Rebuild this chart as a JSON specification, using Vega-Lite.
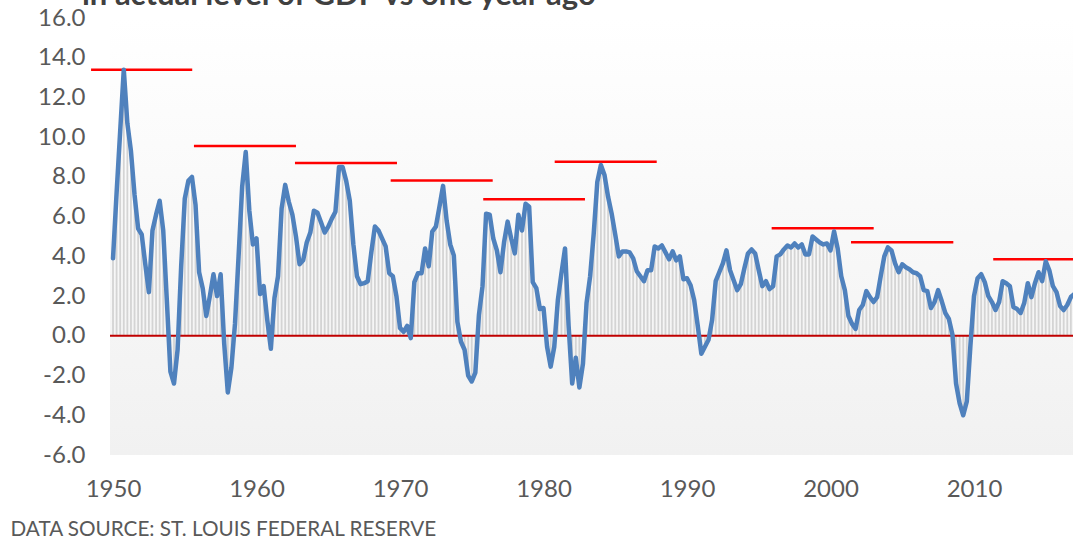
{
  "$schema": "https://vega.github.io/schema/vega-lite/v6.json",
  "autosize": {"type": "none"},
  "width": 963,
  "height": 437,
  "padding": {"left": 110, "top": 18, "right": 0, "bottom": 84},
  "background": "#ffffff",
  "title": {
    "text": "in actual level of GDP vs one year ago",
    "anchor": "start",
    "frame": "group",
    "font": "Lato",
    "fontSize": 31,
    "fontWeight": "bold",
    "color": "#404040",
    "baseline": "alphabetic",
    "offset": 0,
    "dx": -28,
    "dy": 30
  },
  "datasets": {
    "gdp": [
      {"t": 1950.0, "v": 3.9}, {"t": 1950.25, "v": 7.2}, {"t": 1950.5, "v": 10.3}, {"t": 1950.75, "v": 13.4},
      {"t": 1951.0, "v": 10.7}, {"t": 1951.25, "v": 9.3}, {"t": 1951.5, "v": 7.1}, {"t": 1951.75, "v": 5.4},
      {"t": 1952.0, "v": 5.1}, {"t": 1952.25, "v": 3.6}, {"t": 1952.5, "v": 2.2}, {"t": 1952.75, "v": 5.3},
      {"t": 1953.0, "v": 6.1}, {"t": 1953.25, "v": 6.8}, {"t": 1953.5, "v": 5.3}, {"t": 1953.75, "v": 1.8},
      {"t": 1954.0, "v": -1.8}, {"t": 1954.25, "v": -2.4}, {"t": 1954.5, "v": -0.7}, {"t": 1954.75, "v": 3.5},
      {"t": 1955.0, "v": 6.9}, {"t": 1955.25, "v": 7.8}, {"t": 1955.5, "v": 8.0}, {"t": 1955.75, "v": 6.6},
      {"t": 1956.0, "v": 3.2}, {"t": 1956.25, "v": 2.4}, {"t": 1956.5, "v": 1.0}, {"t": 1956.75, "v": 2.0},
      {"t": 1957.0, "v": 3.1}, {"t": 1957.25, "v": 2.0}, {"t": 1957.5, "v": 3.1}, {"t": 1957.75, "v": -0.4},
      {"t": 1958.0, "v": -2.85}, {"t": 1958.25, "v": -1.6}, {"t": 1958.5, "v": 0.6}, {"t": 1958.75, "v": 4.0},
      {"t": 1959.0, "v": 7.5}, {"t": 1959.25, "v": 9.25}, {"t": 1959.5, "v": 6.3}, {"t": 1959.75, "v": 4.6},
      {"t": 1960.0, "v": 4.9}, {"t": 1960.25, "v": 2.1}, {"t": 1960.5, "v": 2.5}, {"t": 1960.75, "v": 0.8},
      {"t": 1961.0, "v": -0.65}, {"t": 1961.25, "v": 1.9}, {"t": 1961.5, "v": 3.0}, {"t": 1961.75, "v": 6.4},
      {"t": 1962.0, "v": 7.6}, {"t": 1962.25, "v": 6.75}, {"t": 1962.5, "v": 6.1}, {"t": 1962.75, "v": 5.0},
      {"t": 1963.0, "v": 3.6}, {"t": 1963.25, "v": 3.8}, {"t": 1963.5, "v": 4.7}, {"t": 1963.75, "v": 5.2},
      {"t": 1964.0, "v": 6.3}, {"t": 1964.25, "v": 6.2}, {"t": 1964.5, "v": 5.7}, {"t": 1964.75, "v": 5.2},
      {"t": 1965.0, "v": 5.5}, {"t": 1965.25, "v": 5.9}, {"t": 1965.5, "v": 6.25}, {"t": 1965.75, "v": 8.5},
      {"t": 1966.0, "v": 8.5}, {"t": 1966.25, "v": 7.8}, {"t": 1966.5, "v": 6.8}, {"t": 1966.75, "v": 4.6},
      {"t": 1967.0, "v": 3.0}, {"t": 1967.25, "v": 2.6}, {"t": 1967.5, "v": 2.65}, {"t": 1967.75, "v": 2.75},
      {"t": 1968.0, "v": 4.2}, {"t": 1968.25, "v": 5.5}, {"t": 1968.5, "v": 5.3}, {"t": 1968.75, "v": 4.9},
      {"t": 1969.0, "v": 4.5}, {"t": 1969.25, "v": 3.15}, {"t": 1969.5, "v": 3.0}, {"t": 1969.75, "v": 2.0},
      {"t": 1970.0, "v": 0.4}, {"t": 1970.25, "v": 0.2}, {"t": 1970.5, "v": 0.5}, {"t": 1970.75, "v": -0.12},
      {"t": 1971.0, "v": 2.7}, {"t": 1971.25, "v": 3.15}, {"t": 1971.5, "v": 3.15}, {"t": 1971.75, "v": 4.4},
      {"t": 1972.0, "v": 3.5}, {"t": 1972.25, "v": 5.25}, {"t": 1972.5, "v": 5.5}, {"t": 1972.75, "v": 6.5},
      {"t": 1973.0, "v": 7.55}, {"t": 1973.25, "v": 5.8}, {"t": 1973.5, "v": 4.6}, {"t": 1973.75, "v": 4.05},
      {"t": 1974.0, "v": 0.7}, {"t": 1974.25, "v": -0.3}, {"t": 1974.5, "v": -0.7}, {"t": 1974.75, "v": -2.0},
      {"t": 1975.0, "v": -2.3}, {"t": 1975.25, "v": -1.85}, {"t": 1975.5, "v": 1.05}, {"t": 1975.75, "v": 2.5},
      {"t": 1976.0, "v": 6.15}, {"t": 1976.25, "v": 6.1}, {"t": 1976.5, "v": 4.9}, {"t": 1976.75, "v": 4.3},
      {"t": 1977.0, "v": 3.2}, {"t": 1977.25, "v": 4.7}, {"t": 1977.5, "v": 5.75}, {"t": 1977.75, "v": 4.9},
      {"t": 1978.0, "v": 4.15}, {"t": 1978.25, "v": 6.1}, {"t": 1978.5, "v": 5.3}, {"t": 1978.75, "v": 6.65},
      {"t": 1979.0, "v": 6.5}, {"t": 1979.25, "v": 2.7}, {"t": 1979.5, "v": 2.4}, {"t": 1979.75, "v": 1.35},
      {"t": 1980.0, "v": 1.4}, {"t": 1980.25, "v": -0.55}, {"t": 1980.5, "v": -1.55}, {"t": 1980.75, "v": -0.55},
      {"t": 1981.0, "v": 1.8}, {"t": 1981.25, "v": 3.15}, {"t": 1981.5, "v": 4.4}, {"t": 1981.75, "v": 0.5},
      {"t": 1982.0, "v": -2.4}, {"t": 1982.25, "v": -1.1}, {"t": 1982.5, "v": -2.6}, {"t": 1982.75, "v": -1.4},
      {"t": 1983.0, "v": 1.65}, {"t": 1983.25, "v": 3.0}, {"t": 1983.5, "v": 5.15}, {"t": 1983.75, "v": 7.75},
      {"t": 1984.0, "v": 8.6}, {"t": 1984.25, "v": 8.1}, {"t": 1984.5, "v": 7.0}, {"t": 1984.75, "v": 6.15},
      {"t": 1985.0, "v": 5.1}, {"t": 1985.25, "v": 4.0}, {"t": 1985.5, "v": 4.25}, {"t": 1985.75, "v": 4.25},
      {"t": 1986.0, "v": 4.2}, {"t": 1986.25, "v": 3.9}, {"t": 1986.5, "v": 3.25}, {"t": 1986.75, "v": 3.0},
      {"t": 1987.0, "v": 2.75}, {"t": 1987.25, "v": 3.3}, {"t": 1987.5, "v": 3.3}, {"t": 1987.75, "v": 4.5},
      {"t": 1988.0, "v": 4.4}, {"t": 1988.25, "v": 4.55}, {"t": 1988.5, "v": 4.2}, {"t": 1988.75, "v": 3.85},
      {"t": 1989.0, "v": 4.25}, {"t": 1989.25, "v": 3.8}, {"t": 1989.5, "v": 4.0}, {"t": 1989.75, "v": 2.85},
      {"t": 1990.0, "v": 2.9}, {"t": 1990.25, "v": 2.55}, {"t": 1990.5, "v": 1.8}, {"t": 1990.75, "v": 0.5},
      {"t": 1991.0, "v": -0.9}, {"t": 1991.25, "v": -0.55}, {"t": 1991.5, "v": -0.2}, {"t": 1991.75, "v": 0.8},
      {"t": 1992.0, "v": 2.75}, {"t": 1992.25, "v": 3.2}, {"t": 1992.5, "v": 3.65}, {"t": 1992.75, "v": 4.3},
      {"t": 1993.0, "v": 3.3}, {"t": 1993.25, "v": 2.8}, {"t": 1993.5, "v": 2.3}, {"t": 1993.75, "v": 2.6},
      {"t": 1994.0, "v": 3.4}, {"t": 1994.25, "v": 4.15}, {"t": 1994.5, "v": 4.35}, {"t": 1994.75, "v": 4.15},
      {"t": 1995.0, "v": 3.3}, {"t": 1995.25, "v": 2.5}, {"t": 1995.5, "v": 2.75}, {"t": 1995.75, "v": 2.35},
      {"t": 1996.0, "v": 2.5}, {"t": 1996.25, "v": 4.0}, {"t": 1996.5, "v": 4.1}, {"t": 1996.75, "v": 4.35},
      {"t": 1997.0, "v": 4.55}, {"t": 1997.25, "v": 4.45}, {"t": 1997.5, "v": 4.65}, {"t": 1997.75, "v": 4.45},
      {"t": 1998.0, "v": 4.6}, {"t": 1998.25, "v": 4.1}, {"t": 1998.5, "v": 4.1}, {"t": 1998.75, "v": 5.0},
      {"t": 1999.0, "v": 4.85}, {"t": 1999.25, "v": 4.7}, {"t": 1999.5, "v": 4.6}, {"t": 1999.75, "v": 4.65},
      {"t": 2000.0, "v": 4.3}, {"t": 2000.25, "v": 5.25}, {"t": 2000.5, "v": 4.4}, {"t": 2000.75, "v": 3.0},
      {"t": 2001.0, "v": 2.3}, {"t": 2001.25, "v": 1.0}, {"t": 2001.5, "v": 0.6}, {"t": 2001.75, "v": 0.35},
      {"t": 2002.0, "v": 1.3}, {"t": 2002.25, "v": 1.55}, {"t": 2002.5, "v": 2.25}, {"t": 2002.75, "v": 1.95},
      {"t": 2003.0, "v": 1.7}, {"t": 2003.25, "v": 1.95}, {"t": 2003.5, "v": 3.0}, {"t": 2003.75, "v": 4.0},
      {"t": 2004.0, "v": 4.45}, {"t": 2004.25, "v": 4.3}, {"t": 2004.5, "v": 3.65}, {"t": 2004.75, "v": 3.2},
      {"t": 2005.0, "v": 3.6}, {"t": 2005.25, "v": 3.45}, {"t": 2005.5, "v": 3.35}, {"t": 2005.75, "v": 3.2},
      {"t": 2006.0, "v": 3.15}, {"t": 2006.25, "v": 3.0}, {"t": 2006.5, "v": 2.3}, {"t": 2006.75, "v": 2.25},
      {"t": 2007.0, "v": 1.4}, {"t": 2007.25, "v": 1.7}, {"t": 2007.5, "v": 2.3}, {"t": 2007.75, "v": 1.75},
      {"t": 2008.0, "v": 1.15}, {"t": 2008.25, "v": 0.85}, {"t": 2008.5, "v": 0.05}, {"t": 2008.75, "v": -2.4},
      {"t": 2009.0, "v": -3.4}, {"t": 2009.25, "v": -4.0}, {"t": 2009.5, "v": -3.3}, {"t": 2009.75, "v": -0.5},
      {"t": 2010.0, "v": 2.0}, {"t": 2010.25, "v": 2.9}, {"t": 2010.5, "v": 3.1}, {"t": 2010.75, "v": 2.7},
      {"t": 2011.0, "v": 2.0}, {"t": 2011.25, "v": 1.7}, {"t": 2011.5, "v": 1.3}, {"t": 2011.75, "v": 1.7},
      {"t": 2012.0, "v": 2.75}, {"t": 2012.25, "v": 2.65}, {"t": 2012.5, "v": 2.5}, {"t": 2012.75, "v": 1.45},
      {"t": 2013.0, "v": 1.35}, {"t": 2013.25, "v": 1.15}, {"t": 2013.5, "v": 1.65}, {"t": 2013.75, "v": 2.65},
      {"t": 2014.0, "v": 1.95}, {"t": 2014.25, "v": 2.65}, {"t": 2014.5, "v": 3.2}, {"t": 2014.75, "v": 2.75},
      {"t": 2015.0, "v": 3.75}, {"t": 2015.25, "v": 3.3}, {"t": 2015.5, "v": 2.5}, {"t": 2015.75, "v": 2.2},
      {"t": 2016.0, "v": 1.5}, {"t": 2016.25, "v": 1.3}, {"t": 2016.5, "v": 1.55}, {"t": 2016.75, "v": 1.95},
      {"t": 2017.0, "v": 2.1}
    ],
    "peaks": [
      {"x1": 1948.47, "x2": 1955.52, "y": 13.4},
      {"x1": 1955.64, "x2": 1962.75, "y": 9.55},
      {"x1": 1962.68, "x2": 1969.79, "y": 8.7},
      {"x1": 1969.35, "x2": 1976.46, "y": 7.82},
      {"x1": 1975.8, "x2": 1982.89, "y": 6.88},
      {"x1": 1980.78, "x2": 1987.89, "y": 8.76},
      {"x1": 1995.9, "x2": 2003.01, "y": 5.41},
      {"x1": 2001.43, "x2": 2008.56, "y": 4.71},
      {"x1": 2011.34, "x2": 2019.0, "y": 3.85}
    ],
    "frame": [{"x1": 1949.79, "x2": 2016.9, "y1": -6, "y2": 16}],
    "zero": [{"z": 0}]
  },
  "encoding": {
    "x": {
      "type": "quantitative",
      "scale": {"domain": [1949.79, 2016.9], "nice": false, "zero": false},
      "axis": {
        "values": [1950, 1960, 1970, 1980, 1990, 2000, 2010],
        "format": "d",
        "ticks": false, "domain": false, "grid": false, "labelOverlap": false,
        "labelFont": "Lato", "labelFontSize": 24, "labelColor": "#595959", "labelPadding": 22,
        "title": "DATA SOURCE: ST. LOUIS FEDERAL RESERVE",
        "titleFont": "Lato", "titleFontSize": 20.7, "titleFontWeight": "normal", "titleColor": "#595959",
        "titleAnchor": "start", "titleAlign": "left", "titleBaseline": "alphabetic",
        "titleX": -100, "titleY": 80
      }
    },
    "y": {
      "type": "quantitative",
      "scale": {"domain": [-6, 16], "nice": false, "zero": false},
      "axis": {
        "values": [-6, -4, -2, 0, 2, 4, 6, 8, 10, 12, 14, 16],
        "format": ".1f",
        "labelExpr": "replace(datum.label, '\u2212', '-')",
        "ticks": false, "domain": false, "grid": false, "labelOverlap": false,
        "labelFont": "Lato", "labelFontSize": 24, "labelColor": "#595959", "labelPadding": 25,
        "title": null
      }
    }
  },
  "layer": [
    {
      "data": {"name": "frame"},
      "mark": {
        "type": "rect",
        "color": {
          "gradient": "linear", "x1": 0, "y1": 0, "x2": 0, "y2": 1,
          "stops": [{"offset": 0, "color": "#ffffff"}, {"offset": 1, "color": "#f1f1f1"}]
        }
      },
      "encoding": {
        "x": {"field": "x1"},
        "x2": {"field": "x2"},
        "y": {"field": "y1"},
        "y2": {"field": "y2"}
      }
    },
    {
      "data": {"name": "gdp"},
      "mark": {"type": "rule", "color": "#d4d4d4", "strokeWidth": 1.8},
      "encoding": {
        "x": {"field": "t"},
        "y": {"field": "v"},
        "y2": {"datum": 0}
      }
    },
    {
      "data": {"name": "zero"},
      "mark": {"type": "rule", "color": "#c00000", "strokeWidth": 2},
      "encoding": {"y": {"field": "z"}, "x": null}
    },
    {
      "data": {"name": "peaks"},
      "mark": {"type": "rule", "color": "#ff0000", "strokeWidth": 2.5},
      "encoding": {
        "x": {"field": "x1"},
        "x2": {"field": "x2"},
        "y": {"field": "y"}
      }
    },
    {
      "data": {"name": "gdp"},
      "mark": {"type": "line", "color": "#4f81bd", "strokeWidth": 4.5, "strokeJoin": "round", "strokeCap": "round"},
      "encoding": {
        "x": {"field": "t"},
        "y": {"field": "v"}
      }
    }
  ],
  "config": {"view": {"stroke": null}, "axis": {"labelOverlap": false}}
}
